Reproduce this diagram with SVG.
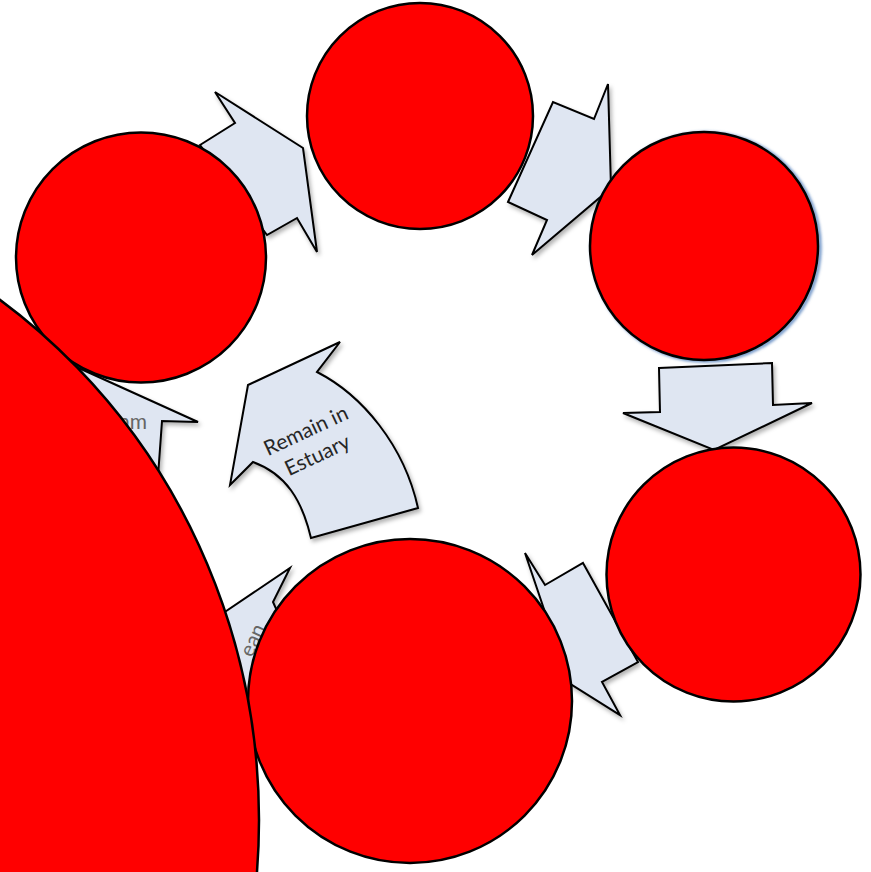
<svg xmlns="http://www.w3.org/2000/svg" width="871" height="872" viewBox="0 0 871 872">
<defs>
<filter id="sh" x="-20%" y="-20%" width="140%" height="140%">
<feDropShadow dx="2" dy="3" stdDeviation="2" flood-color="#000" flood-opacity="0.3"/>
</filter>
<filter id="blur" x="-10%" y="-10%" width="120%" height="120%">
<feGaussianBlur stdDeviation="1.5"/>
</filter>
</defs>
<style>
.arrow{fill:#dfe6f2;stroke:#000;stroke-width:2;stroke-linejoin:miter;filter:url(#sh)}
.node{fill:#ff0000;stroke:#000;stroke-width:2.5}
.lbl{font-family:Lato,"Open Sans","Liberation Sans",sans-serif;font-size:21px;fill:#262626}
.lbl2{font-family:Lato,"Open Sans","Liberation Sans",sans-serif;font-size:21px;fill:#666}
</style>
<g id="connectors">
<polygon class="arrow" points="200,145 235,123 215,92 303,148 317,252 297,218 267,235"/>
<polygon class="arrow" points="508,202 553,102 594,119 608,84 611,188 532,255 547,220"/>
<polygon class="arrow" points="659,368 772,363 773,405 812,403 714,450 623,413 660,412"/>
<polygon class="arrow" points="583,563 638,662 602,682 620,715 569,683 525,553 545,585"/>
<polygon class="arrow" points="50,355 198,422 162,421 157,490 60,500"/>
<polygon class="arrow" points="210,622 290,568 273,602 290,640 255,720 215,700"/>
<path class="arrow" d="M340,342 L317,372 C362,395 404,445 418,508 L311,538 C302,500 286,474 253,462 L230,485 L248,385 Z"/>
<text class="lbl2" x="147" y="429" text-anchor="end">am</text>
<text class="lbl2" transform="translate(266,628) rotate(-65)" text-anchor="end">ean</text>
<g transform="translate(314,448) rotate(-25)">
<text class="lbl" x="0" y="-12" text-anchor="middle">Remain in</text>
<text class="lbl" x="0" y="15" text-anchor="middle">Estuary</text>
</g>
</g>
<g id="node-top"><circle class="node" cx="420" cy="116" r="113"/></g>
<g id="node-right">
<circle cx="706" cy="247" r="114" fill="none" stroke="#5b86c0" stroke-width="3" filter="url(#blur)"/>
<circle class="node" cx="704" cy="246" r="114"/>
</g>
<g id="node-lower-right"><circle class="node" cx="733.5" cy="574.5" r="127"/></g>
<g id="node-bottom"><circle class="node" cx="410" cy="701" r="162"/></g>
<g id="node-top-left"><circle class="node" cx="141" cy="257.5" r="125"/></g>
<g id="node-big"><ellipse class="node" cx="-362" cy="820" rx="621" ry="640"/></g>
</svg>
